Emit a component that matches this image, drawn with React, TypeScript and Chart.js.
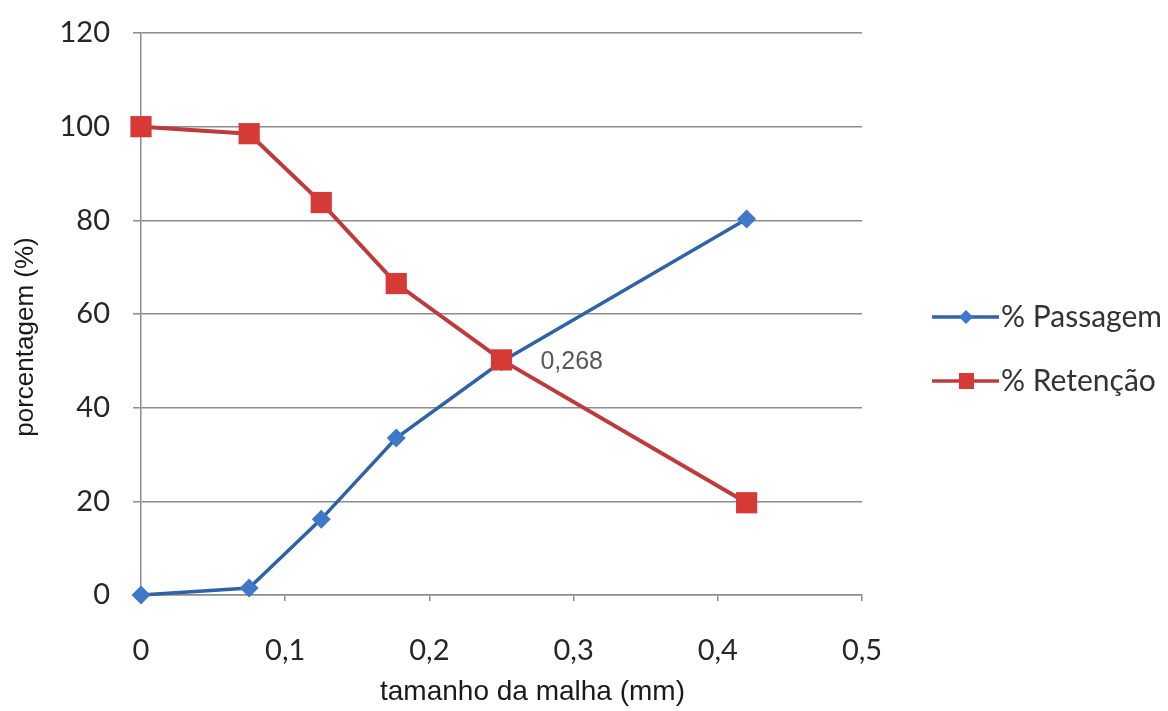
import React, { useEffect, useRef } from 'react';
import { Chart, registerables } from 'chart.js';

Chart.register(...registerables);

// ---- data ----
const meshSizes = [0, 0.075, 0.125, 0.177, 0.25, 0.42];
const passagem = [0, 1.5, 16.2, 33.5, 49.8, 80.3];
const retencao = [100, 98.5, 83.8, 66.5, 50.2, 19.7];
const seriesNames = ['% Passagem', '% Retenção'];
const xTitle = 'tamanho da malha (mm)';
const yTitle = 'porcentagem (%)';
const annotationText = '0,268';
const annotationX = 0.277;
const annotationY = 49.8;

const BLUE_LINE = '#2f63a6';
const BLUE_MARK = '#3f78c8';
const RED_LINE = '#bd3b3b';
const RED_MARK = '#d63a36';
const GRID = '#8c8c8c';

const fmt = (v: number) => String(Math.round(v * 10) / 10).replace('.', ',');

const overlayPlugin = {
  id: 'overlay',
  afterDraw(chart: any) {
    const { ctx, chartArea } = chart;
    const xs = chart.scales.x;
    const ys = chart.scales.y;
    ctx.save();
    // annotation
    ctx.font = '25px "Liberation Sans", Arial, sans-serif';
    ctx.fillStyle = '#595959';
    ctx.textAlign = 'left';
    ctx.textBaseline = 'middle';
    ctx.fillText(annotationText, xs.getPixelForValue(annotationX), ys.getPixelForValue(annotationY));

    // axis titles
    ctx.fillStyle = '#1a1a1a';
    ctx.font = '28px "Liberation Sans", Arial, sans-serif';
    ctx.textAlign = 'center';
    ctx.textBaseline = 'middle';
    ctx.fillText(xTitle, (chartArea.left + chartArea.right) / 2 + 31, 692);
    ctx.save();
    ctx.translate(26, 337);
    ctx.rotate(-Math.PI / 2);
    ctx.font = '26px "Liberation Sans", Arial, sans-serif';
    ctx.fillText(yTitle, 0, 0);
    ctx.restore();

    // legend
    const rows = [
      { y: 317, line: BLUE_LINE, mark: BLUE_MARK, shape: 'diamond' },
      { y: 381, line: RED_LINE, mark: RED_MARK, shape: 'square' },
    ];
    rows.forEach((r, i) => {
      ctx.strokeStyle = r.line;
      ctx.lineWidth = 3.5;
      ctx.beginPath();
      ctx.moveTo(932, r.y);
      ctx.lineTo(999, r.y);
      ctx.stroke();
      ctx.fillStyle = r.mark;
      ctx.beginPath();
      if (r.shape === 'diamond') {
        ctx.moveTo(966, r.y - 7);
        ctx.lineTo(973, r.y);
        ctx.lineTo(966, r.y + 7);
        ctx.lineTo(959, r.y);
        ctx.closePath();
      } else {
        ctx.rect(959, r.y - 8, 15, 16);
      }
      ctx.fill();
      ctx.fillStyle = '#333333';
      ctx.font = '30px Lato, "Open Sans", sans-serif';
      ctx.textAlign = 'left';
      ctx.textBaseline = 'middle';
      ctx.fillText(seriesNames[i], 1001, r.y);
    });
    ctx.restore();
  },
};

export default function App() {
  const ref = useRef<HTMLCanvasElement>(null);
  useEffect(() => {
    document.body.style.margin = '0';
    document.body.style.background = '#ffffff';
    if (!ref.current) return;
    const tickFont = { family: 'Lato, "Open Sans", sans-serif', size: 29 };
    const chart = new Chart(ref.current, {
      type: 'line',
      data: {
        datasets: [
          {
            label: seriesNames[0],
            data: meshSizes.map((x, i) => ({ x, y: passagem[i] })),
            borderColor: BLUE_LINE,
            backgroundColor: BLUE_MARK,
            borderWidth: 3.5,
            pointStyle: 'rectRot',
            pointRadius: 9.5,
            pointBorderWidth: 0,
            pointBackgroundColor: BLUE_MARK,
            clip: false,
            order: 2,
          },
          {
            label: seriesNames[1],
            data: meshSizes.map((x, i) => ({ x, y: retencao[i] })),
            borderColor: RED_LINE,
            backgroundColor: RED_MARK,
            borderWidth: 4,
            pointStyle: 'rect',
            pointRadius: 15,
            pointBorderWidth: 0,
            pointBackgroundColor: RED_MARK,
            clip: false,
            order: 1,
          },
        ],
      },
      options: {
        responsive: false,
        animation: false,
        layout: { autoPadding: false, padding: { top: 33, right: 306, left: 0, bottom: 0 } },
        plugins: { legend: { display: false }, tooltip: { enabled: false } },
        scales: {
          x: {
            type: 'linear',
            min: 0,
            max: 0.5,
            ticks: {
              stepSize: 0.1,
              callback: (v: any) => fmt(Number(v)),
              font: tickFont,
              color: '#262626',
              padding: 32,
              maxRotation: 0,
            },
            grid: { drawOnChartArea: false, drawTicks: true, tickLength: 6, color: GRID, lineWidth: 1.5 },
            border: { color: GRID, width: 1.5 },
            afterFit: (s: any) => {
              s.height = 711 - 595;
              s.paddingLeft = 0;
              s.paddingRight = 0;
            },
          },
          y: {
            min: 0,
            max: 120,
            ticks: {
              stepSize: 20,
              font: tickFont,
              color: '#262626',
              padding: 23,
            },
            grid: { color: GRID, lineWidth: 1.5, tickLength: 8 },
            border: { color: GRID, width: 1.5 },
            afterFit: (s: any) => {
              s.width = 141;
              s.paddingTop = 0;
              s.paddingBottom = 0;
            },
          },
        },
      },
      plugins: [overlayPlugin],
    });
    return () => chart.destroy();
  }, []);
  return (
    <div style={{ width: 1168, height: 711 }}>
      <canvas ref={ref} width={1168} height={711} />
    </div>
  );
}
